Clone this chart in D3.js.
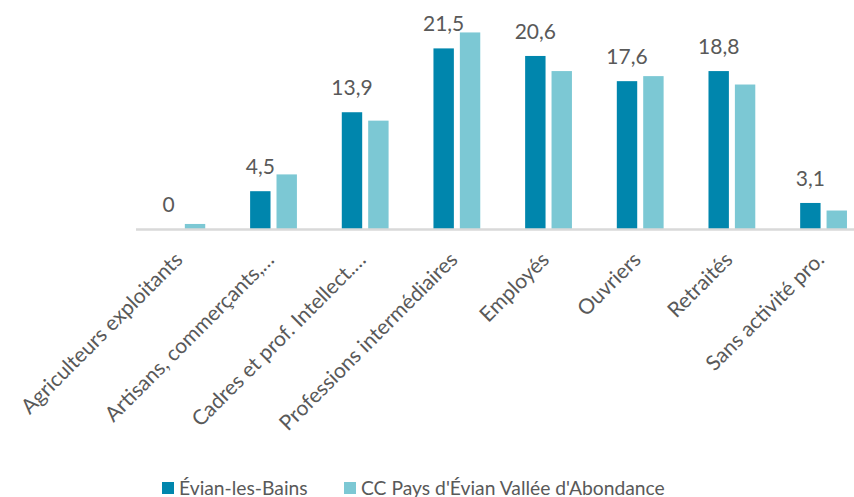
<!DOCTYPE html>
<html>
<head>
<meta charset="utf-8">
<script src="https://cdn.jsdelivr.net/npm/d3@7"></script>
<style>
  body { margin: 0; background: #fff; }
  svg { display: block; font-family: Lato, "Open Sans", sans-serif; }
</style>
</head>
<body>
<div id="chart"></div>
<script>
// categories (as shown on the axis)
const categories = [
  "Agriculteurs exploitants",
  "Artisans, commerçants,…",
  "Cadres et prof. Intellect.…",
  "Professions intermédiaires",
  "Employés",
  "Ouvriers",
  "Retraités",
  "Sans activité pro."
];

const seriesNames = ["Évian-les-Bains", "CC Pays d'Évian Vallée d'Abondance"];

// values in %
const evian = [0, 4.5, 13.9, 21.5, 20.6, 17.6, 18.8, 3.1];
const ccpeva = [0.6, 6.5, 12.9, 23.4, 18.8, 18.2, 17.2, 2.2];

const colors = ["#0086ad", "#7cc8d4"];

const W = 854, H = 497;

const svg = d3.select("#chart").append("svg")
  .attr("width", W).attr("height", H);

// the plot runs off the right edge in the original, so the band range does too
const x0 = d3.scaleBand().domain(categories).range([136, 869.4]);
const x1 = d3.scaleBand().domain(seriesNames)
  .range([x0.bandwidth() / 2 - 23.4, x0.bandwidth() / 2 + 23.4])
  .paddingInner(0.227);
const y = d3.scaleLinear().domain([0, 25]).range([229, 19]);

const rows = categories.map((c, i) => ({ cat: c, vals: [evian[i], ccpeva[i]] }));

const g = svg.append("g");
const groups = g.selectAll("g.cat")
  .data(rows)
  .join("g")
  .attr("class", "cat")
  .attr("transform", d => `translate(${x0(d.cat)},0)`);

groups.selectAll("rect")
  .data(d => d.vals.map((v, j) => ({ name: seriesNames[j], v, j })))
  .join("rect")
  .attr("x", d => x1(d.name))
  .attr("width", x1.bandwidth())
  .attr("y", d => y(d.v))
  .attr("height", d => y(0) - y(d.v))
  .attr("fill", d => colors[d.j]);

// data labels only on Évian
groups.append("text")
  .attr("x", x1(seriesNames[0]) + x1.bandwidth() / 2)
  .attr("y", d => y(d.vals[0]) - 17)
  .attr("text-anchor", "middle")
  .attr("font-size", 21)
  .attr("fill", "#595959")
  .text(d => d3.format(".1~f")(d.vals[0]).replace(".", ","));

// baseline axis
svg.append("line")
  .attr("x1", 136).attr("x2", W)
  .attr("y1", 229.5).attr("y2", 229.5)
  .attr("stroke", "#d9d9d9")
  .attr("stroke-width", 2.5);

// rotated category labels
svg.append("g").selectAll("text")
  .data(categories)
  .join("text")
  .attr("transform", d => `translate(${x0(d) + x0.bandwidth() / 2 + 2},${261}) rotate(-45)`)
  .attr("text-anchor", "end")
  .attr("font-size", 21)
  .attr("fill", "#595959")
  .text(d => d);

// legend
const legend = svg.append("g");
const legendX = [162, 344];
seriesNames.forEach((n, i) => {
  legend.append("rect")
    .attr("x", legendX[i]).attr("y", 482)
    .attr("width", 12).attr("height", 12)
    .attr("fill", colors[i]);
  legend.append("text")
    .attr("x", legendX[i] + 17).attr("y", 494.5)
    .attr("font-size", 19.3)
    .attr("fill", "#595959")
    .text(n);
});
</script>
</body>
</html>
